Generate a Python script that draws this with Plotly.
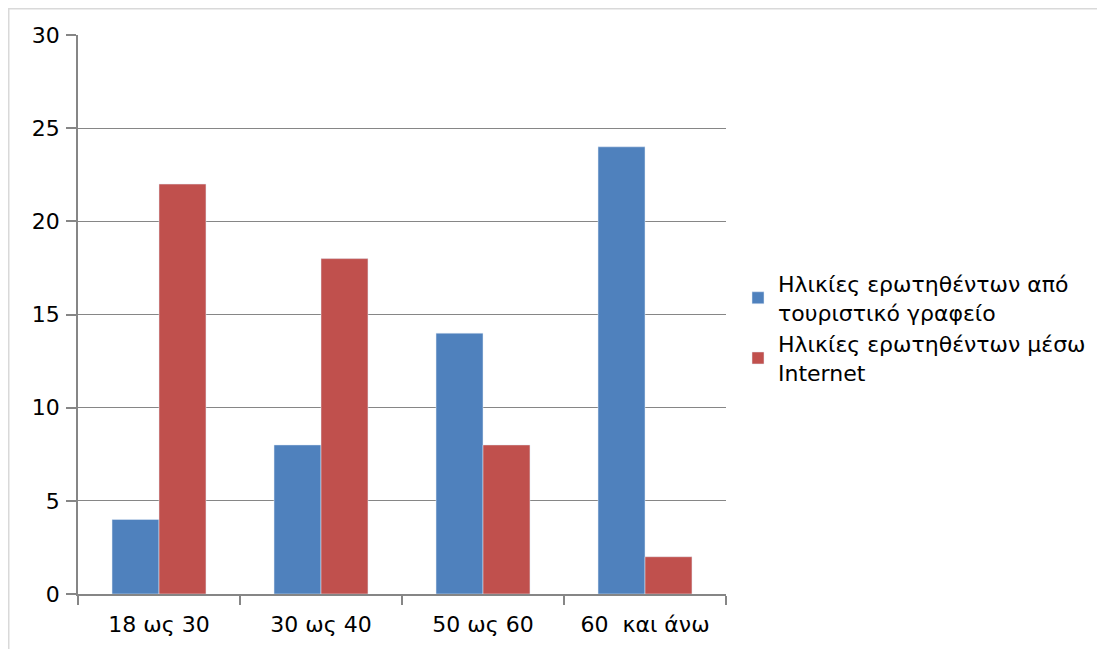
import plotly.graph_objects as go

categories = ["18 ως 30", "30 ως 40", "50 ως 60", "60  και άνω"]
series1_name = "Ηλικίες ερωτηθέντων από<br>τουριστικό γραφείο"
series1 = [4, 8, 14, 24]
series2_name = "Ηλικίες ερωτηθέντων μέσω<br>Internet"
series2 = [22, 18, 8, 2]
y_ticks = [0, 5, 10, 15, 20, 25, 30]

FONT = "DejaVu Sans, Noto Sans, sans-serif"
GRID = "#868686"
FS = 22
PW = 1097 - 70 - 379

fig = go.Figure()
fig.add_trace(go.Bar(x=categories, y=series1, name=series1_name, marker_color="#4F81BD"))
fig.add_trace(go.Bar(x=categories, y=series2, name=series2_name, marker_color="#C0504D"))

fig.update_layout(
    width=1097, height=641,
    margin=dict(l=70, r=379, t=27, b=55),
    paper_bgcolor="white", plot_bgcolor="white",
    barmode="group", bargap=0.42, bargroupgap=0,
    font=dict(family=FONT, size=FS, color="#000000"),
    legend=dict(
        xref="container", yref="container",
        x=730 / 1097, y=0.5005, xanchor="left", yanchor="middle",
        font=dict(size=FS, family=FONT), traceorder="normal",
        itemwidth=30,
        bgcolor="rgba(0,0,0,0)",
    ),
    xaxis=dict(
        type="category", showgrid=False, showline=True, linecolor=GRID, linewidth=1.5,
        ticks="outside", tickson="boundaries", ticklen=9, tickcolor=GRID, tickwidth=1.5,
        tickfont=dict(size=FS, family=FONT), ticklabelstandoff=10,
    ),
    yaxis=dict(
        range=[0, 30], tickvals=y_ticks, showgrid=True, gridcolor=GRID, gridwidth=1.2,
        showline=True, linecolor=GRID, linewidth=1.5, zeroline=False,
        ticks="outside", ticklen=10, tickcolor=GRID, tickwidth=1.5,
        tickfont=dict(size=FS, family=FONT), ticklabelstandoff=2,
    ),
    shapes=[dict(type="rect", xref="paper", yref="paper",
                 x0=-69.25 / PW, x1=1200 / PW, y0=-200 / 559, y1=1 + 26.25 / 559,
                 line=dict(color="#D9D9D9", width=1.5), fillcolor="rgba(0,0,0,0)", layer="below")],
)

fig.write_html("out.html")
